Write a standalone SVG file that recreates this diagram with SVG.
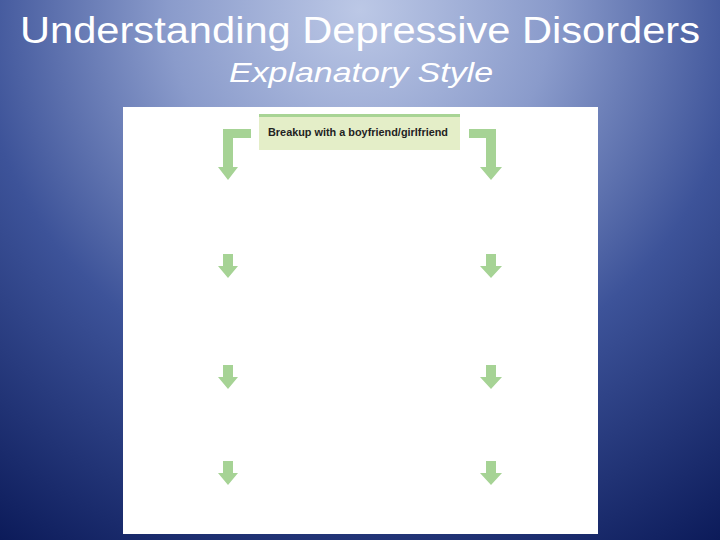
<svg xmlns="http://www.w3.org/2000/svg" width="720" height="540" viewBox="0 0 720 540">
<defs>
<radialGradient id="bg" gradientUnits="userSpaceOnUse" cx="360" cy="10" r="640">
<stop offset="0" stop-color="#bcc8e6"/>
<stop offset="0.3" stop-color="#8a9bcb"/>
<stop offset="0.6" stop-color="#3d5399"/>
<stop offset="1" stop-color="#0c1b5a"/>
</radialGradient>
<style>
.arr{fill:#a6d395;}
.title{font-family:"Liberation Sans",Arial,sans-serif;fill:#ffffff;}
</style>
</defs>
<rect x="0" y="0" width="720" height="540" fill="url(#bg)"/>
<text class="title" x="360" y="43" font-size="36" text-anchor="middle" textLength="680" lengthAdjust="spacingAndGlyphs">Understanding Depressive Disorders</text>
<text class="title" x="361" y="82" font-size="28" font-style="italic" text-anchor="middle" textLength="264" lengthAdjust="spacingAndGlyphs">Explanatory Style</text>
<rect x="123" y="107" width="475" height="427" fill="#ffffff"/>
<g id="node-breakup">
<rect x="259" y="114" width="201" height="36" fill="#e4eec8"/>
<rect x="259" y="114" width="201" height="3" fill="#a8d495"/>
<text x="268" y="136" font-family="Liberation Sans,Arial,sans-serif" font-size="11" font-weight="bold" fill="#222222" textLength="180" lengthAdjust="spacingAndGlyphs">Breakup with a boyfriend/girlfriend</text>
</g>
<g id="connectors">
<path class="arr" d="M251,129 L223,129 L223,167 L218,167 L228,180 L238,167 L233,167 L233,138 L251,138 Z"/>
<path class="arr" d="M469,129 L496,129 L496,167 L502,167 L491,180 L480,167 L486,167 L486,138 L469,138 Z"/>
<path class="arr" d="M223,254 L233,254 L233,266 L238,266 L228,278 L218,266 L223,266 Z"/>
<path class="arr" d="M486,254 L496,254 L496,266 L502,266 L491,278 L480,266 L486,266 Z"/>
<path class="arr" d="M223,365 L233,365 L233,377 L238,377 L228,389 L218,377 L223,377 Z"/>
<path class="arr" d="M486,365 L496,365 L496,377 L502,377 L491,389 L480,377 L486,377 Z"/>
<path class="arr" d="M223,461 L233,461 L233,473 L238,473 L228,485 L218,473 L223,473 Z"/>
<path class="arr" d="M486,461 L496,461 L496,473 L502,473 L491,485 L480,473 L486,473 Z"/>
</g>
</svg>
